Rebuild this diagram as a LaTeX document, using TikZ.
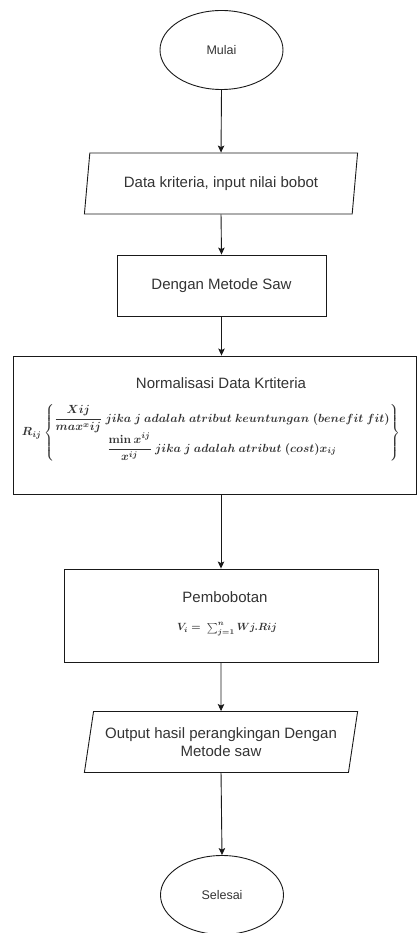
\documentclass[tikz,border=0pt]{standalone}
\usepackage{amsmath,graphicx}
\usepackage[no-math]{fontspec}
\setmainfont{Liberation Sans}
\usetikzlibrary{shapes.geometric,arrows.meta}
\begin{document}
\begin{tikzpicture}[x=1pt,y=1pt,
  line/.style={draw=black!90, line width=0.9pt},
  term/.style={line, ellipse, minimum width=123pt, minimum height=79pt, inner sep=0pt, font=\fontsize{12.5}{15}\selectfont, text=black!80},
  io/.style={line, trapezium, trapezium left angle=74, trapezium right angle=106, trapezium stretches=true, minimum width=274pt, minimum height=61pt, inner sep=0pt, font=\fontsize{15}{18}\selectfont, text=black!80, align=center},
  proc/.style={line, rectangle, inner sep=0pt},
  lbl/.style={font=\fontsize{15}{18}\selectfont, text=black!80, inner sep=0pt},
  mth/.style={text=black!80, inner sep=0pt},
  arr/.style={line, -{Stealth[length=7pt,width=6.5pt,inset=1.5pt]}}
]
\useasboundingbox (0,0) rectangle (417,-933);

\node[term] (mulai) at (221.5,-50) {Mulai};
\node[io] (data) at (221,-183.5) {Data kriteria, input nilai bobot};
\node[proc, minimum width=209pt, minimum height=61pt] (saw) at (221.5,-285.5) {};
\node[lbl] (sawt) at (saw.center) {Dengan Metode Saw};
\node[proc, minimum width=403pt, minimum height=138pt] (norm) at (214.5,-425) {};
\node[lbl] (normt) at (221,-383) {Normalisasi Data Krtiteria};
\node[mth] (normf) at (211,-433) {\resizebox{378pt}{!}{\boldmath$R_{ij}\left\{\begin{array}{@{}c@{}} \dfrac{Xij}{max^{x}ij}\ jika\ j\ adalah\ atribut\ keuntungan\ (benefit\ fit)\\[3pt] \dfrac{\min x^{ij}}{x^{ij}}\ jika\ j\ adalah\ atribut\ (cost)x_{ij} \end{array}\right\}$}};
\node[proc, minimum width=314pt, minimum height=93pt] (pemb) at (221,-615.5) {};
\node[lbl] (pembt) at (225,-597) {Pembobotan};
\node[mth] (pembf) at (227,-629) {\resizebox{100pt}{!}{\boldmath$V_i =\ \textstyle\sum_{j=1}^{n} Wj.Rij$}};
\node[io] (out) at (221,-742) {Output hasil perangkingan Dengan\\Metode saw};
\node[term] (selesai) at (222,-895) {Selesai};

\draw[arr] (mulai.south) -- (data.north);
\draw[arr] (data.south) -- (saw.north);
\draw[arr] (saw.south) -- (saw.south |- norm.north);
\draw[arr] (norm.south -| pemb.north) -- (pemb.north);
\draw[arr] (pemb.south) -- (out.north);
\draw[arr] (out.south) -- (selesai.north);
\end{tikzpicture}
\end{document}
